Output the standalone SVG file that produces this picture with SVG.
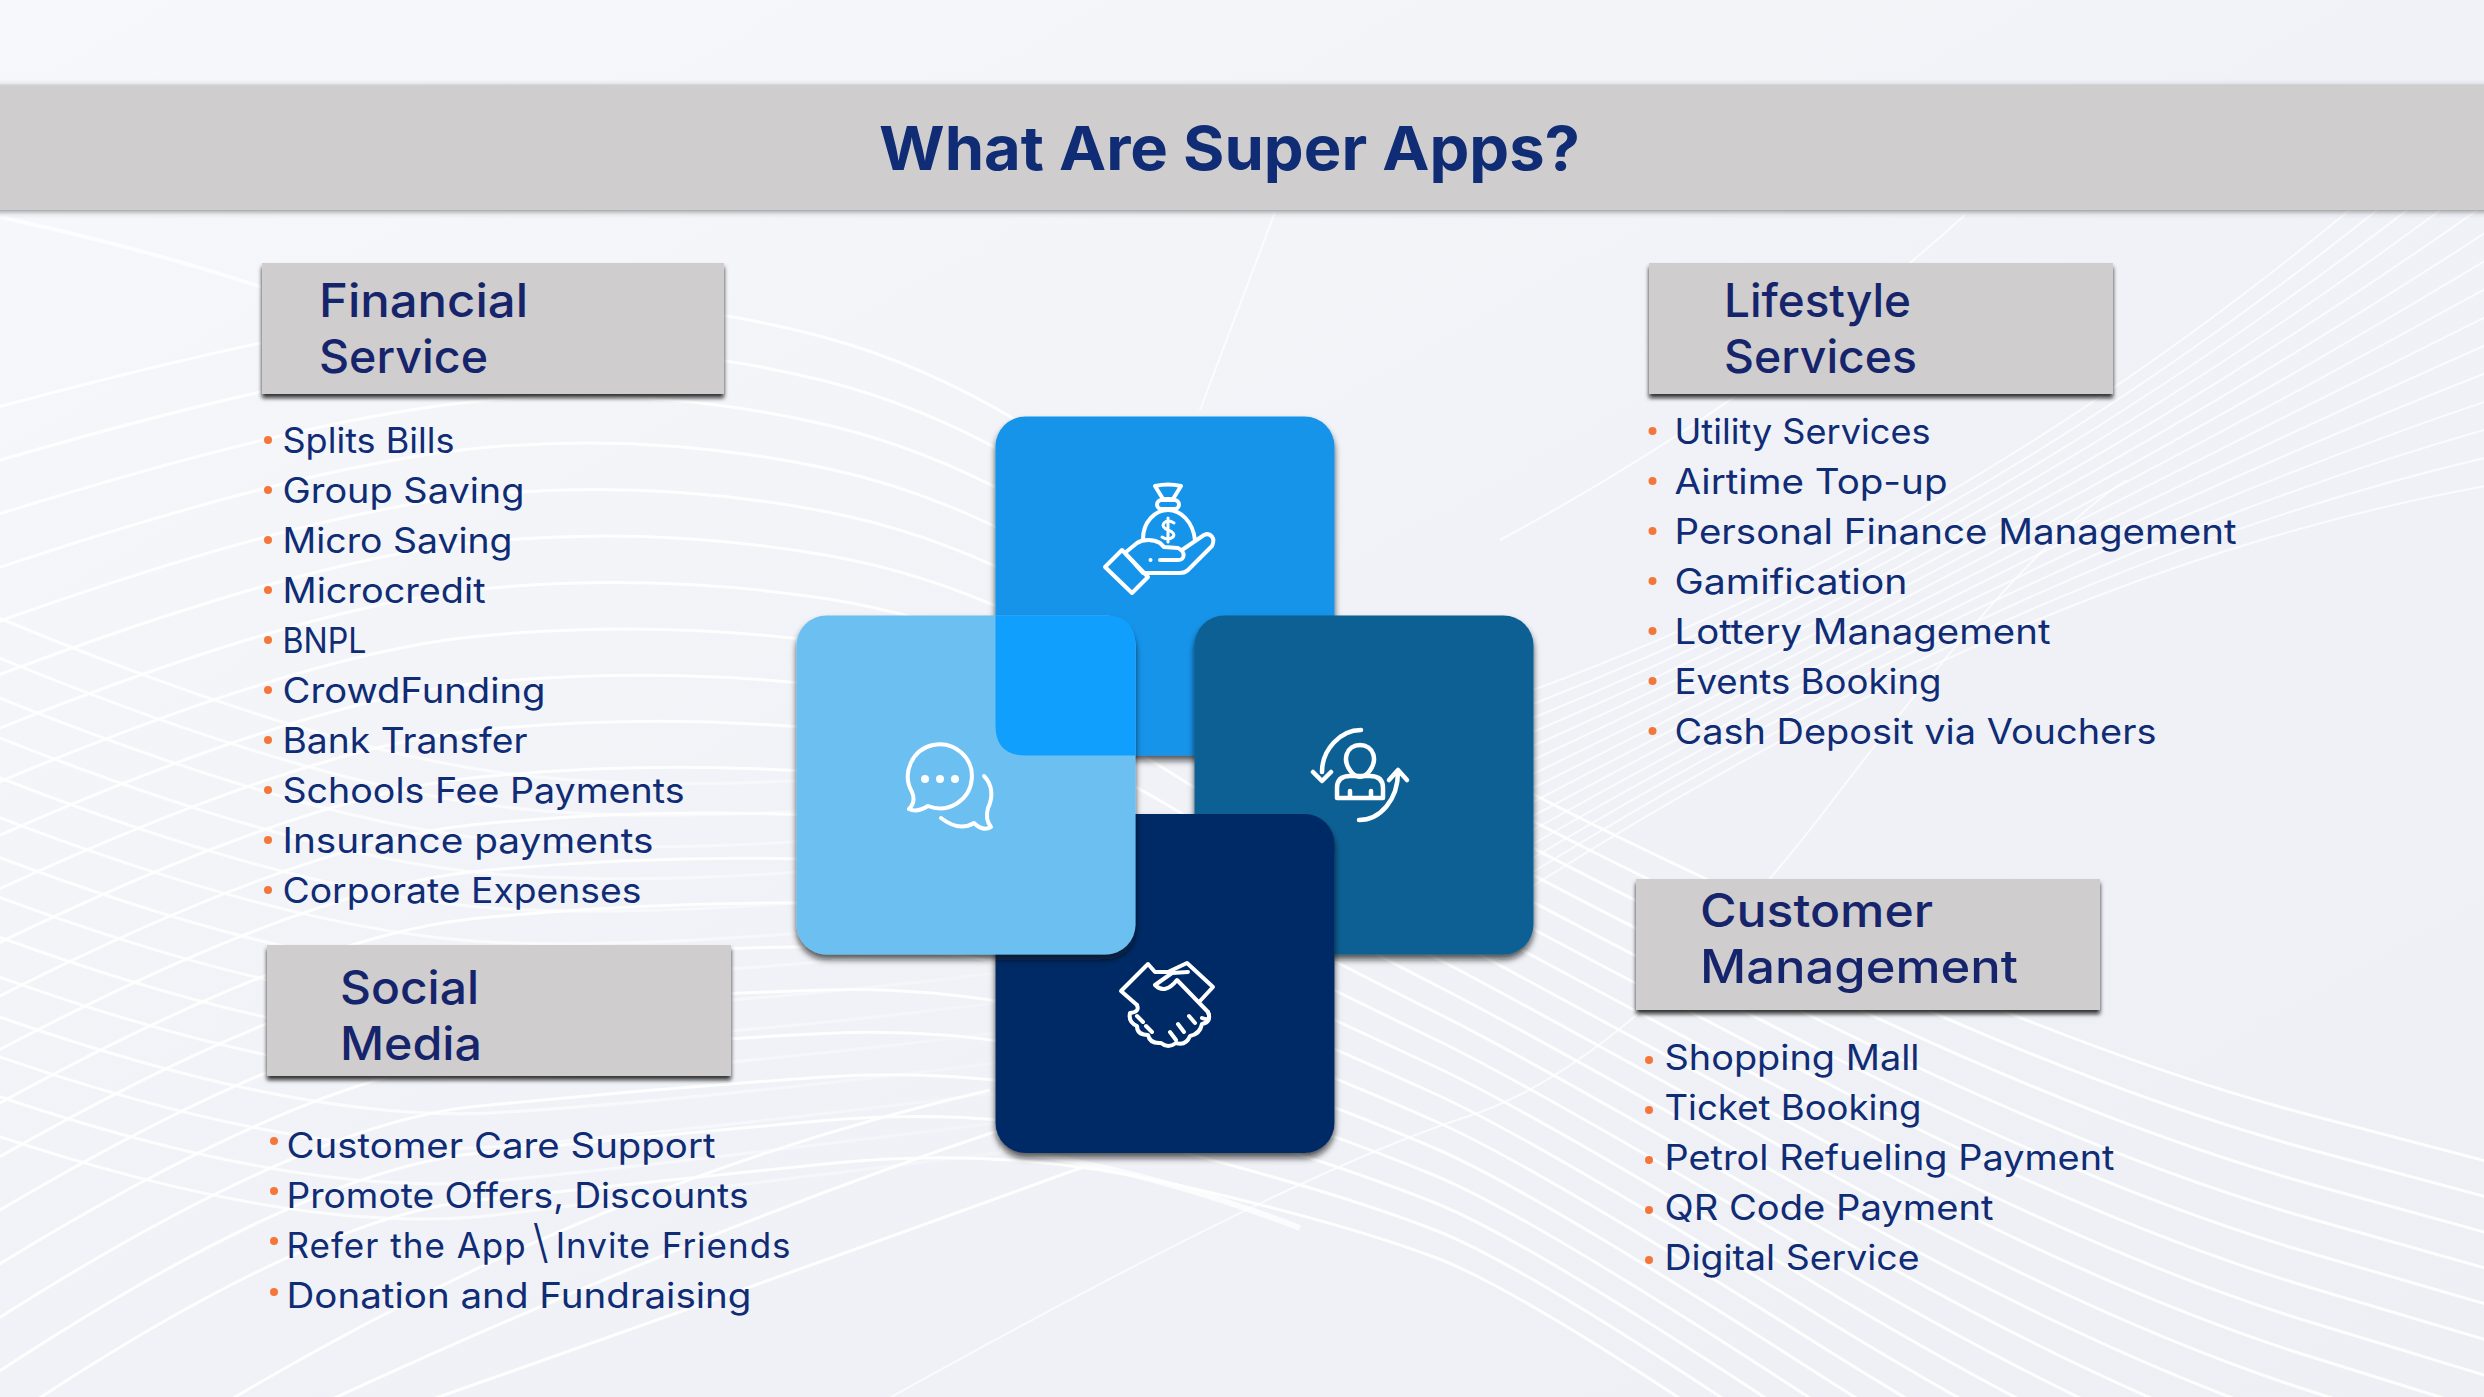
<svg xmlns="http://www.w3.org/2000/svg" width="2484" height="1397" viewBox="0 0 2484 1397">
<defs>
<linearGradient id="bg" x1="0" y1="0" x2="1" y2="1"><stop offset="0" stop-color="#F6F8FB"/><stop offset=".5" stop-color="#F0F2F7"/><stop offset="1" stop-color="#EDEFF5"/></linearGradient>
<linearGradient id="fadeB" gradientUnits="userSpaceOnUse" x1="0" y1="0" x2="1000" y2="0"><stop offset="0" stop-color="#fff" stop-opacity=".95"/><stop offset=".45" stop-color="#fff" stop-opacity=".7"/><stop offset="1" stop-color="#fff" stop-opacity=".2"/></linearGradient>
<filter id="bandS" x="-2%" y="-20%" width="104%" height="140%"><feDropShadow dx="0" dy="1" stdDeviation="3" flood-color="#444" flood-opacity=".7"/></filter>
<filter id="boxS" x="-3%" y="-6%" width="106%" height="116%"><feDropShadow dx="0" dy="4" stdDeviation="2" flood-color="#111" flood-opacity=".85"/></filter>
<filter id="tileS" x="-5%" y="-5%" width="110%" height="110%"><feDropShadow dx="0" dy="5" stdDeviation="3" flood-color="#111" flood-opacity=".7"/></filter>
</defs>
<style>
.wa path{fill:none;stroke:#fff;stroke-width:3;stroke-opacity:.88}
.wb path{fill:none;stroke:url(#fadeB);stroke-width:3}
.wd path{fill:none;stroke:#fff;stroke-width:2;stroke-opacity:.72}
.box{fill:#CFCDCE;filter:url(#boxS)}
.tile{filter:url(#tileS)}
.h{font-family:Inter,"Liberation Sans",sans-serif;font-size:46px;font-weight:500;fill:#16256B;transform:translate(-2px,0)}
.li{font-family:Inter,"Liberation Sans",sans-serif;font-size:35px;font-weight:400;fill:#0F2C75;transform:translate(-1.5px,1px)}
.t{font-family:Inter,"Liberation Sans",sans-serif;font-size:61px;font-weight:700;fill:#0F2C75}
.b{fill:#F5763A}
.ic{fill:none;stroke:#fff;stroke-width:4;stroke-linecap:round;stroke-linejoin:round}
.icf{fill:#fff}
</style>
<rect width="2484" height="1397" fill="url(#bg)"/>
<g id="background">
<g class="wa">
<path d="M-20,412Q300,325 475,307.5T825,337.5T1170,532.5T1436,740T1816,930T2310,1115L2520,1170"/>
<path d="M-20,466Q300,372 475,354.5T825,381T1170,566.75T1436,767.25T1816,959.5T2310,1149.5L2520,1206"/>
<path d="M-20,520Q300,419 475,401.5T825,424.5T1170,601T1436,794.5T1816,989T2310,1184L2520,1242"/>
<path d="M-20,574Q300,466 475,448.5T825,468T1170,635.25T1436,821.75T1816,1018.5T2310,1218.5L2520,1278"/>
<path d="M-20,628Q300,513 475,495.5T825,511.5T1170,669.5T1436,849T1816,1048T2310,1253L2520,1314"/>
<path d="M-20,682Q300,560 475,542.5T825,555T1170,703.75T1436,876.25T1816,1077.5T2310,1287.5L2520,1350"/>
<path d="M-20,736Q300,607 475,589.5T825,598.5T1170,738T1436,903.5T1816,1107T2310,1322L2520,1386"/>
<path d="M-20,790Q300,654 475,636.5T825,642T1170,772.25T1436,930.75T1816,1136.5T2310,1356.5L2520,1422"/>
<path d="M-20,844Q300,701 475,683.5T825,685.5T1170,806.5T1436,958T1816,1166T2310,1391L2520,1458"/>
<path d="M-20,898Q300,748 475,730.5T825,729T1170,840.75T1436,985.25T1816,1195.5T2310,1425.5L2520,1494"/>
<path d="M-20,952Q300,795 475,777.5T825,772.5T1170,875T1436,1012.5T1816,1225T2310,1460"/>
<path d="M-20,1006Q300,842 475,824.5T825,816T1170,909.25T1436,1039.75T1816,1254.5T2310,1494.5"/>
<path d="M-20,1060Q300,889 475,871.5T825,859.5T1170,943.5T1436,1067T1816,1284T2310,1529"/>
<path d="M-20,1114Q300,936 475,918.5T825,903T1170,977.75T1436,1094.25T1816,1313.5T2310,1563.5"/>
<path d="M-20,1168Q300,983 475,965.5T825,946.5T1170,1012T1436,1121.5T1816,1343T2310,1598"/>
<path d="M-20,1222Q300,1030 475,1012.5T825,990T1170,1046.25T1436,1148.75T1816,1372.5T2310,1632.5"/>
<path d="M-20,1276Q300,1077 475,1059.5T825,1033.5T1170,1080.5T1436,1176T1816,1402"/>
<path d="M-20,1330Q300,1124 475,1106.5T825,1077T1170,1114.75T1436,1203.25T1816,1431.5"/>
<path d="M-20,1384Q300,1171 475,1153.5T825,1120.5T1170,1149T1436,1230.5T1816,1461"/>
<path d="M-20,1438Q300,1218 475,1200.5T825,1164T1170,1183.25T1436,1257.75T1816,1490.5"/>
<path d="M430,1400Q800,1270 1083,1167"/>
<path d="M330,1400Q700,1230 1000,1130"/>
<path d="M230,1400Q600,1180 990,1090"/>
</g>
<g class="wb">
<path d="M-20,610Q300,745 500,772.5Q700,800 1020,760"/>
<path d="M-20,650Q300,783 500,806.5Q700,830 1020,790"/>
<path d="M-20,690Q300,821 500,840.5Q700,860 1020,820"/>
<path d="M-20,730Q300,859 500,874.5Q700,890 1020,850"/>
<path d="M-20,770Q300,897 500,908.5Q700,920 1020,880"/>
<path d="M-20,810Q300,935 500,942.5Q700,950 1020,910"/>
<path d="M-20,850Q300,973 500,976.5Q700,980 1020,940"/>
<path d="M-20,890Q300,1011 500,1010.5Q700,1010 1020,970"/>
<path d="M-20,930Q300,1049 500,1044.5Q700,1040 1020,1000"/>
<path d="M-20,970Q300,1087 500,1078.5Q700,1070 1020,1030"/>
<path d="M-20,1010Q300,1125 500,1112.5Q700,1100 1020,1060"/>
<path d="M-20,1050Q300,1163 500,1146.5Q700,1130 1020,1090"/>
<path d="M-20,1090Q300,1201 500,1180.5Q700,1160 1020,1120"/>
<path d="M-20,1130Q300,1239 500,1214.5Q700,1190 1020,1150"/>
</g>
<g class="wd">
<path d="M1533,690Q2050,500 2520,60"/>
<path d="M1533,704Q2050,504 2520,90"/>
<path d="M1533,718Q2050,508 2520,120"/>
<path d="M1533,732Q2050,512 2520,150"/>
<path d="M1533,746Q2050,516 2520,180"/>
<path d="M1533,760Q2050,520 2520,210"/>
<path d="M1533,774Q2050,524 2520,240"/>
<path d="M1533,788Q2050,528 2520,270"/>
<path d="M1533,802Q2050,532 2520,300"/>
<path d="M1533,816Q2050,536 2520,330"/>
<path d="M1533,830Q2050,540 2520,360"/>
<path d="M1533,844Q2050,544 2520,390"/>
<path d="M1533,858Q2050,548 2520,420"/>
<path d="M1533,872Q2050,552 2520,450"/>
<path d="M1533,886Q2050,556 2520,480"/>
<path d="M891,1397Q1300,1170 1466,1117T1833,800T2127,480"/>
<path d="M1275,212L1200,410"/>
<path d="M1500,540Q1760,400 1965,215"/>
<path d="M0,217Q150,250 261,287" style="stroke-width:4"/>
</g>
<path d="M1000,1148Q1150,1170 1300,1228" fill="none" stroke="#fff" stroke-width="6" stroke-opacity=".75"/>
</g>
<g id="title-band">
<rect x="-10" y="86" width="2504" height="124" fill="#CFCDCE" filter="url(#bandS)"/>
<text class="t" x="879" y="170" textLength="701" lengthAdjust="spacingAndGlyphs">What Are Super Apps?</text>
</g>
<g id="financial-service">
<rect class="box" x="262" y="263" width="462" height="131"/>
<text class="h" x="321" y="317" textLength="209" lengthAdjust="spacingAndGlyphs">Financial</text>
<text class="h" x="321" y="373" textLength="169" lengthAdjust="spacingAndGlyphs">Service</text>
<g>
<circle class="b" cx="268" cy="440" r="4"/><circle class="b" cx="268" cy="490" r="4"/><circle class="b" cx="268" cy="540" r="4"/><circle class="b" cx="268" cy="590" r="4"/><circle class="b" cx="268" cy="640" r="4"/><circle class="b" cx="268" cy="690" r="4"/><circle class="b" cx="268" cy="740" r="4"/><circle class="b" cx="268" cy="790" r="4"/><circle class="b" cx="268" cy="840" r="4"/><circle class="b" cx="268" cy="890" r="4"/>
<text class="li" x="284" y="452" textLength="172" lengthAdjust="spacingAndGlyphs">Splits Bills</text>
<text class="li" x="284" y="502" textLength="242" lengthAdjust="spacingAndGlyphs">Group Saving</text>
<text class="li" x="284" y="552" textLength="230" lengthAdjust="spacingAndGlyphs">Micro Saving</text>
<text class="li" x="284" y="602" textLength="203" lengthAdjust="spacingAndGlyphs">Microcredit</text>
<text class="li" x="284" y="652" textLength="84" lengthAdjust="spacingAndGlyphs">BNPL</text>
<text class="li" x="284" y="702" textLength="263" lengthAdjust="spacingAndGlyphs">CrowdFunding</text>
<text class="li" x="284" y="752" textLength="245" lengthAdjust="spacingAndGlyphs">Bank Transfer</text>
<text class="li" x="284" y="802" textLength="402" lengthAdjust="spacingAndGlyphs">Schools Fee Payments</text>
<text class="li" x="284" y="852" textLength="371" lengthAdjust="spacingAndGlyphs">Insurance payments</text>
<text class="li" x="284" y="902" textLength="359" lengthAdjust="spacingAndGlyphs">Corporate Expenses</text>
</g>
</g>
<g id="social-media">
<rect class="box" x="267" y="945" width="464" height="131"/>
<text class="h" x="342" y="1004" textLength="139" lengthAdjust="spacingAndGlyphs">Social</text>
<text class="h" x="342" y="1060" textLength="142" lengthAdjust="spacingAndGlyphs">Media</text>
<circle class="b" cx="274" cy="1141" r="4"/><circle class="b" cx="274" cy="1191" r="4"/><circle class="b" cx="274" cy="1241" r="4"/><circle class="b" cx="274" cy="1292" r="4"/>
<text class="li" x="288" y="1157" textLength="429" lengthAdjust="spacingAndGlyphs">Customer Care Support</text>
<text class="li" x="288" y="1207" textLength="462" lengthAdjust="spacingAndGlyphs">Promote Offers, Discounts</text>
<text class="li" x="288" y="1257" style="letter-spacing:1px">Refer the App<tspan font-size="46" font-weight="300" dx="6">\</tspan><tspan dx="6">Invite Friends</tspan></text>
<text class="li" x="288" y="1307" textLength="465" lengthAdjust="spacingAndGlyphs">Donation and Fundraising</text>
</g>
<g id="lifestyle-services">
<rect class="box" x="1649" y="263" width="464" height="131"/>
<text class="h" x="1726" y="317" textLength="187" lengthAdjust="spacingAndGlyphs">Lifestyle</text>
<text class="h" x="1726" y="373" textLength="193" lengthAdjust="spacingAndGlyphs">Services</text>
<circle class="b" cx="1652.5" cy="431" r="4"/><circle class="b" cx="1652.5" cy="481" r="4"/><circle class="b" cx="1652.5" cy="531" r="4"/><circle class="b" cx="1652.5" cy="581" r="4"/><circle class="b" cx="1652.5" cy="631" r="4"/><circle class="b" cx="1652.5" cy="681" r="4"/><circle class="b" cx="1652.5" cy="731" r="4"/>
<text class="li" x="1676" y="443" textLength="256" lengthAdjust="spacingAndGlyphs">Utility Services</text>
<text class="li" x="1676" y="493" textLength="273" lengthAdjust="spacingAndGlyphs">Airtime Top-up</text>
<text class="li" x="1676" y="543" textLength="562" lengthAdjust="spacingAndGlyphs">Personal Finance Management</text>
<text class="li" x="1676" y="593" textLength="233" lengthAdjust="spacingAndGlyphs">Gamification</text>
<text class="li" x="1676" y="643" textLength="376" lengthAdjust="spacingAndGlyphs">Lottery Management</text>
<text class="li" x="1676" y="693" textLength="267" lengthAdjust="spacingAndGlyphs">Events Booking</text>
<text class="li" x="1676" y="743" textLength="482" lengthAdjust="spacingAndGlyphs">Cash Deposit via Vouchers</text>
</g>
<g id="customer-management">
<rect class="box" x="1636" y="879" width="464" height="131"/>
<text class="h" x="1702" y="927" textLength="233" lengthAdjust="spacingAndGlyphs">Customer</text>
<text class="h" x="1702" y="983" textLength="318" lengthAdjust="spacingAndGlyphs">Management</text>
<circle class="b" cx="1649" cy="1060" r="4"/><circle class="b" cx="1649" cy="1110" r="4"/><circle class="b" cx="1649" cy="1160" r="4"/><circle class="b" cx="1649" cy="1210" r="4"/><circle class="b" cx="1649" cy="1260" r="4"/>
<text class="li" x="1666" y="1069" textLength="255" lengthAdjust="spacingAndGlyphs">Shopping Mall</text>
<text class="li" x="1666" y="1119" textLength="257" lengthAdjust="spacingAndGlyphs">Ticket Booking</text>
<text class="li" x="1666" y="1169" textLength="450" lengthAdjust="spacingAndGlyphs">Petrol Refueling Payment</text>
<text class="li" x="1666" y="1219" textLength="329" lengthAdjust="spacingAndGlyphs">QR Code Payment</text>
<text class="li" x="1666" y="1269" textLength="255" lengthAdjust="spacingAndGlyphs">Digital Service</text>
</g>
<g id="tile-finance">
<rect class="tile" x="995.5" y="416.5" width="339" height="339" rx="30" fill="#1594EA"/>
</g>
<g id="tile-lifestyle">
<rect class="tile" x="1194.5" y="615.5" width="339" height="339" rx="30" fill="#0B6094"/>
</g>
<g id="tile-customer">
<rect class="tile" x="995.5" y="814" width="339" height="339" rx="30" fill="#062C66"/>
</g>
<g id="tile-social">
<rect class="tile" x="796.5" y="615.5" width="339" height="339" rx="30" fill="#6CBFF1"/>
</g>
<path id="tile-overlap" d="M995.5,615.5H1105.5Q1135.5,615.5 1135.5,645.5V755.5H1025.5Q995.5,755.5 995.5,725.5Z" fill="#119FFE"/>
<g id="icon-money" class="ic">
<path d="M1155,486Q1168,483 1181,486L1173,499H1163Z"/>
<rect x="1157" y="500" width="22" height="9" rx="4.5"/>
<path d="M1143,539C1143,522 1155,510 1168,510C1181,510 1193,522 1195,540"/>
<path d="M1174,523Q1168,519 1164,523Q1161,527 1168,530Q1176,533 1173,537Q1168,541 1162,537M1168,518V542" style="stroke-width:3"/>
<path d="M1105,567L1122,550L1148,577L1132,593Z"/>
<path d="M1126,552L1137,543C1143,539 1153,539 1160,543L1164,547L1178,548C1186,552 1185,560 1178,560H1160"/>
<path d="M1126,554L1143,573H1180Q1185,573 1188,570L1212,546C1216,538 1210,532 1204,535L1182,550"/>
<circle class="icf" cx="1150.5" cy="560" r="2" stroke="none"/>
</g>
<g id="icon-chat" class="ic">
<path d="M927,804A32,32 0 1 0 911,790C914,797 912,803 908,807Q916,811 927,804Z" transform="translate(1,2)"/>
<circle class="icf" cx="925" cy="779" r="4" stroke="none"/><circle class="icf" cx="940" cy="779" r="4" stroke="none"/><circle class="icf" cx="955" cy="779" r="4" stroke="none"/>
<path d="M983,776C992,785 992,798 987,808C985,815 986,822 990,827Q982,832 973,823Q958,832 940,818" transform="translate(1,0)"/>
</g>
<g id="icon-lifecycle" class="ic" style="stroke-width:4.5">
<path d="M1361,730C1340,730 1322,750 1322,772M1313,772L1322,781L1331,772"/>
<path d="M1359,820C1380,820 1398,800 1398,772M1389,780L1398,770L1407,780"/>
<path d="M1353,774C1340,760 1347,745 1360,745C1373,745 1380,760 1367,774Q1360,780 1353,774Z"/>
<path d="M1337,798V788Q1337,776 1350,776H1370Q1383,776 1383,788V798ZM1350,798V791M1371,798V791"/>
</g>
<g id="icon-handshake" class="ic">
<path d="M1137,1005L1121,991L1148,964L1155,972H1168L1187,963L1213,987L1200,1001"/>
<path d="M1188,972L1172,973L1155,985Q1165,995 1177,980L1208,1012Q1212,1022 1202,1018"/>
<path d="M1137,1005Q1140,1012 1130,1013Q1128,1022 1137,1026Q1137,1035 1148,1035Q1150,1044 1161,1043Q1168,1049 1176,1043Q1186,1046 1190,1036Q1200,1034 1202,1024Q1212,1022 1208,1012"/>
<path d="M1137,1016L1143,1022M1146,1026L1152,1032M1176,1040L1170,1032M1184,1032L1178,1024M1195,1023L1189,1016"/>
</g>
</svg>
